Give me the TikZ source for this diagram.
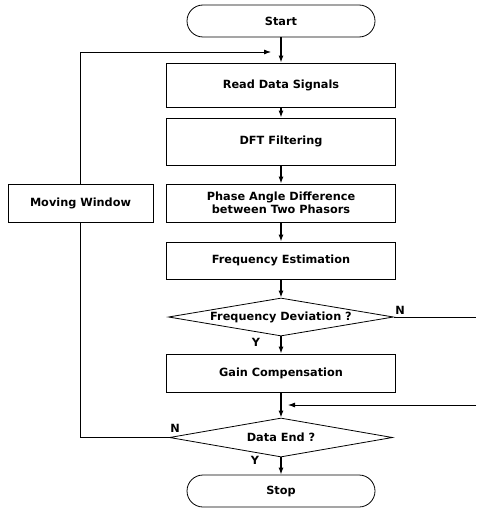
\documentclass[tikz,border=0pt]{standalone}
\usepackage{fontspec}
\setmainfont{DejaVu Sans}
\usetikzlibrary{shapes.geometric,arrows.meta}
\begin{document}
\begin{tikzpicture}[x=1pt,y=-1pt,
  every node/.style={font=\fontsize{11.3}{13}\selectfont\bfseries},
  box/.style={draw, line width=0.8pt, minimum width=229pt, inner sep=0pt, align=center},
  term/.style={draw, line width=0.8pt, rounded corners=16pt, minimum width=188pt, minimum height=32pt, inner sep=0pt},
  dec/.style={draw, diamond, line width=0.8pt, aspect=5.9, minimum width=225pt, minimum height=38pt, inner sep=0pt},
  lbl/.style={inner sep=0pt},
  arr/.style={line width=1.2pt, -{Latex[length=7pt,width=5pt]}},
  ln/.style={line width=0.8pt}]
\useasboundingbox (0,0) rectangle (476,508);
\node[term] (start) at (281,21) {Start};
\node[box, minimum height=44pt] (read) at (281,85) {Read Data Signals};
\node[box, minimum height=47pt] (dft) at (281,141.5) {DFT Filtering};
\node[box, minimum height=38pt] (phase) at (281,203) {Phase Angle Difference\\between Two Phasors};
\node[box, minimum height=37pt] (fest) at (281,260.5) {Frequency Estimation};
\node[dec] (fd) at (281,317) {Frequency Deviation ?};
\node[box, minimum height=38pt] (gain) at (281,373) {Gain Compensation};
\node[dec, minimum width=223pt, minimum height=39pt] (de) at (281,437.5) {Data End ?};
\node[term] (stop) at (281,491) {Stop};
\node[box, minimum width=145pt, minimum height=38pt] (mw) at (80.5,203) {Moving Window};

\coordinate (loopin) at (271,52);
\coordinate (rightA) at (476,317);
\coordinate (rightB) at (476,405);
\coordinate (retin) at (288,405);

\draw[arr] (start) -- (read);
\draw[arr] (read) -- (dft);
\draw[arr] (dft) -- (phase);
\draw[arr] (phase) -- (fest);
\draw[arr] (fest) -- (fd);
\draw[arr] (fd) -- (gain);
\draw[arr] (gain) -- (de);
\draw[arr] (de) -- (stop);
\draw[ln] (de.west) -| (mw.south);
\draw[ln, -{Latex[length=7pt,width=5pt]}] (mw.north) |- (loopin);
\draw[ln] (fd.east) -- (rightA);
\draw[ln, -{Latex[length=7pt,width=5pt]}] (rightB) -- (retin);

\node[lbl] (fdn) at (400,310) {N};
\node[lbl] (fdy) at (256,342) {Y};
\node[lbl] (den) at (175,428) {N};
\node[lbl] (dey) at (255,460) {Y};
\end{tikzpicture}
\end{document}
